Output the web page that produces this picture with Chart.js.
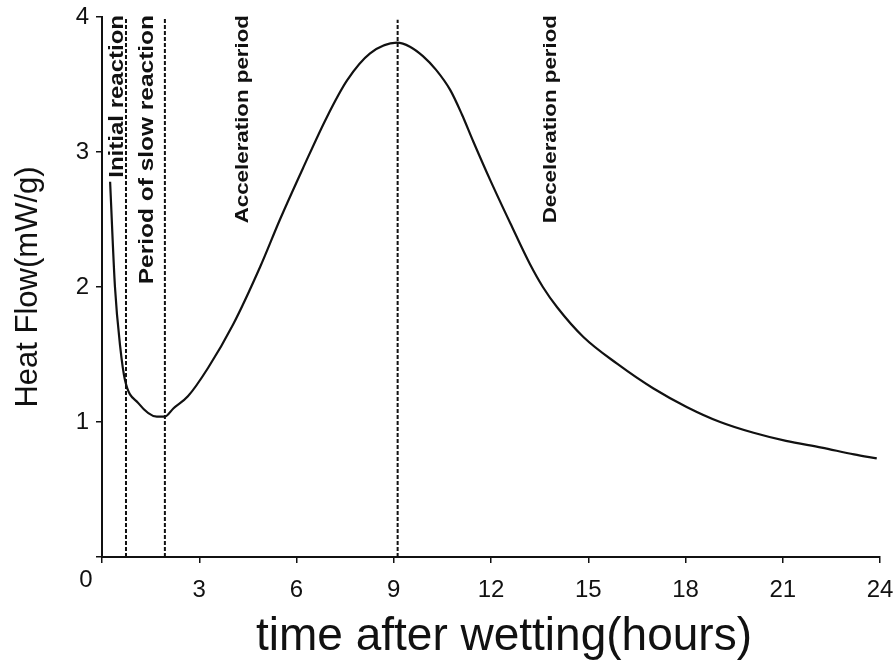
<!DOCTYPE html>
<html>
<head>
<meta charset="utf-8">
<script src="https://cdn.jsdelivr.net/npm/chart.js@4.4.1/dist/chart.umd.min.js"></script>
<style>
  html, body { margin: 0; padding: 0; background: #fff; }
  #wrap { width: 894px; height: 662px; }
</style>
</head>
<body>
<div id="wrap"><canvas id="heatChart"></canvas></div>
<script>
// Heat flow curve
const timeHours = [0.25, 0.40, 0.56, 0.71, 1.12, 1.69, 1.94, 2.20, 2.65, 3.27, 4.04, 4.88, 5.49, 6.20, 6.94, 7.56, 8.27, 9.10, 9.50, 9.90, 10.30, 10.74, 11.10, 11.45, 11.98, 12.60, 13.20, 13.60, 14.04, 14.85, 15.90, 17.00, 18.05, 19.07, 20.10, 21.10, 22.20, 23.20, 23.90];
const heatFlow = [2.78, 2.00, 1.56, 1.31, 1.14, 1.04, 1.04, 1.10, 1.19, 1.40, 1.72, 2.15, 2.50, 2.88, 3.26, 3.53, 3.73, 3.81, 3.78, 3.71, 3.61, 3.46, 3.28, 3.08, 2.79, 2.47, 2.17, 2.00, 1.85, 1.63, 1.43, 1.25, 1.11, 1.00, 0.92, 0.86, 0.81, 0.76, 0.73];

// Period boundaries (hours) and how high each dashed line goes
const boundaryHours = [0.74, 1.94, 9.12];
const boundaryTop = [4.0, 4.0, 3.98];

// Period names, written vertically (baseline position in hours)
const phaseNames = ['Initial reaction', 'Period of slow reaction', 'Acceleration period', 'Deceleration period'];
const phaseAt = [0.65, 1.57, 4.50, 14.0];
const phaseSize = [20, 20.4, 18.6, 18.6];

const xTicks = [0, 3, 6, 9, 12, 15, 18, 21, 24];
const yTicks = [0, 1, 2, 3, 4];

const xTitle = 'time after wetting(hours)';
const SANS = "'Liberation Sans', Arial, sans-serif";

// Draws the origin "0", the x-axis title and the rotated period names
const phaseText = {
    id: 'phaseText',
    afterDraw(chart) {
        const { ctx, scales: { x, y } } = chart;
        ctx.save();
        ctx.fillStyle = '#111';

        ctx.font = '24px ' + SANS;
        ctx.textAlign = 'center';
        ctx.textBaseline = 'middle';
        ctx.fillText('0', x.getPixelForValue(0) - 16, y.getPixelForValue(0) + 23);

        // title sits a bit right of the plot centre in the original
        ctx.font = '46px ' + SANS;
        ctx.textBaseline = 'alphabetic';
        ctx.fillText(xTitle, x.getPixelForValue(12.4), y.getPixelForValue(0) + 93);

        ctx.textAlign = 'right';
        phaseNames.forEach((name, i) => {
            ctx.save();
            ctx.font = 'bold ' + phaseSize[i] + 'px ' + SANS;
            ctx.translate(x.getPixelForValue(phaseAt[i]), y.getPixelForValue(4) - 2);
            ctx.rotate(-Math.PI / 2);
            ctx.scale(1.2, 1);
            ctx.fillText(name, 0, 0);
            ctx.restore();
        });
        ctx.restore();
    }
};

const curve = timeHours.map((t, i) => ({ x: t, y: heatFlow[i] }));

const boundarySets = boundaryHours.map((b, i) => ({
    data: [{ x: b, y: 0 }, { x: b, y: boundaryTop[i] }],
    borderColor: '#111',
    borderWidth: 2,
    borderDash: [4, 2],
    pointRadius: 0,
    clip: false
}));

new Chart(document.getElementById('heatChart').getContext('2d'), {
    type: 'line',
    data: {
        datasets: [{
            label: 'Heat Flow',
            data: curve,
            borderColor: '#111',
            borderWidth: 2.2,
            pointRadius: 0,
            cubicInterpolationMode: 'monotone',
            fill: false
        }, ...boundarySets]
    },
    options: {
        responsive: true,
        maintainAspectRatio: false,
        animation: false,
        events: [],
        layout: { padding: { top: 17, right: 14, left: 0, bottom: 0 } },
        plugins: {
            legend: { display: false },
            tooltip: { enabled: false }
        },
        scales: {
            x: {
                type: 'linear',
                min: 0,
                max: 24,
                // fixed box so the plot area lines up with the original
                afterFit: s => { s.height = 105; s.paddingLeft = 0; s.paddingRight = 0; },
                afterBuildTicks: s => { s.ticks = xTicks.map(v => ({ value: v })); },
                border: { display: true, color: '#111', width: 2 },
                grid: { drawOnChartArea: false, drawTicks: true, tickLength: 6, color: '#111', lineWidth: 1.5 },
                ticks: {
                    color: '#111',
                    padding: 13,
                    maxRotation: 0,
                    font: { family: SANS, size: 24 },
                    callback: v => (v === 0 ? '' : v)
                },
                title: { display: false }
            },
            y: {
                min: 0,
                max: 4,
                afterFit: s => { s.width = 102; s.paddingTop = 0; s.paddingBottom = 0; },
                afterBuildTicks: s => { s.ticks = yTicks.map(v => ({ value: v })); },
                border: { display: true, color: '#111', width: 2 },
                grid: { drawOnChartArea: false, drawTicks: true, tickLength: 6, color: '#111', lineWidth: 1.5 },
                ticks: {
                    color: '#111',
                    padding: 7,
                    font: { family: SANS, size: 24 },
                    callback: v => (v === 0 ? '' : v)
                },
                title: {
                    display: true,
                    text: 'Heat Flow(mW/g)',
                    color: '#111',
                    font: { family: SANS, size: 31, lineHeight: 1 },
                    padding: { top: 13, bottom: 0 }
                }
            }
        }
    },
    plugins: [phaseText]
});
</script>
</body>
</html>
